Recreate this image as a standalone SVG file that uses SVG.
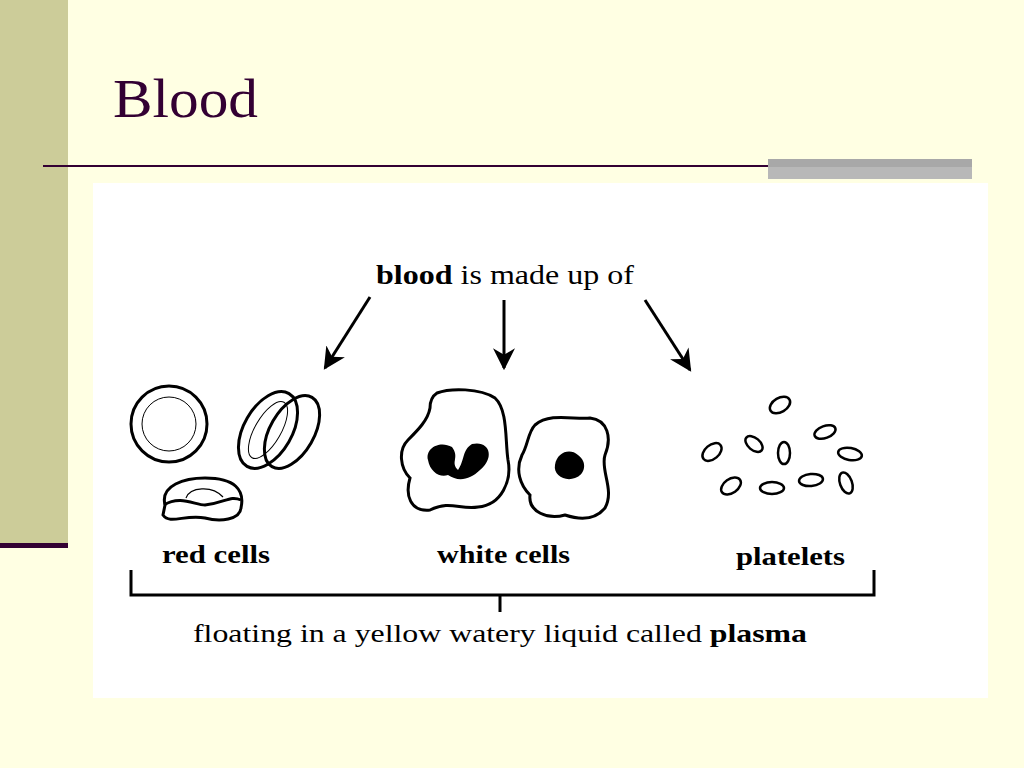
<svg xmlns="http://www.w3.org/2000/svg" width="1024" height="768" viewBox="0 0 1024 768">
<style>
.o{fill:none;stroke:#000;stroke-width:3}
.t{font-family:"Liberation Serif",serif;fill:#000}
.b{font-weight:bold}
.p{fill:#fff;stroke:#000;stroke-width:2.5}
</style>
<defs>
<marker id="a" viewBox="0 0 10 10" refX="9" refY="5" markerWidth="22" markerHeight="22" markerUnits="userSpaceOnUse" orient="auto"><path d="M0,0L10,5L0,10L3,5z" fill="#000"/></marker></defs>
<rect width="1024" height="768" fill="#FFFFE3"/>
<rect x="0" y="0" width="68" height="545" fill="#CCCC99"/>
<rect x="0" y="543" width="68" height="5" fill="#330033"/>
<text x="113" y="117" font-family="Liberation Serif,serif" font-size="54" fill="#330033" textLength="145" lengthAdjust="spacingAndGlyphs">Blood</text>
<rect x="43" y="165" width="725" height="2" fill="#330033"/>
<rect x="768" y="159" width="204" height="8" fill="#A8A8A8"/>
<rect x="768" y="167" width="204" height="12" fill="#B8B8B8"/>
<rect x="93" y="183" width="895" height="515" fill="#fff"/>
<g id="title"><text class="t" x="376" y="284" font-size="28" textLength="258" lengthAdjust="spacingAndGlyphs"><tspan class="b">blood</tspan> is made up of</text></g>
<g id="connectors" class="o">
<line x1="370" y1="297" x2="325" y2="368" marker-end="url(#a)"/>
<line x1="504" y1="300" x2="504" y2="368" marker-end="url(#a)"/>
<line x1="645" y1="300" x2="690" y2="370" marker-end="url(#a)"/>
<path d="M131,570V595H874V570M500,595V612"/>
</g>
<g id="red">
<circle class="o" cx="169" cy="424" r="38"/><circle cx="169" cy="424" r="27" fill="none" stroke="#000" stroke-width="1"/>
<ellipse class="o" cx="292" cy="432" rx="22" ry="40" transform="rotate(30 292 432)" fill="#fff"/>
<ellipse class="o" cx="268" cy="430" rx="24" ry="42" transform="rotate(30 268 430)" fill="#fff"/>
<ellipse cx="268" cy="430" rx="13" ry="32" transform="rotate(30 268 430)" fill="none" stroke="#000" stroke-width="1"/>
<path class="o" d="M165,505C160,485 185,478 205,478C235,478 245,490 241,508C240,520 220,522 205,518C185,514 170,525 163,515Z" fill="#fff"/>
<path class="o" d="M164,505C180,495 195,505 205,505C225,503 230,495 241,500"/>
<path d="M186,498C190,487 212,485 223,497" fill="none" stroke="#000" stroke-width="1.2"/>
<text class="t b" x="162" y="563" font-size="25" textLength="108" lengthAdjust="spacingAndGlyphs">red cells</text></g>
<g id="white">
<path class="o" fill="#fff" d="M437,393C450,388 480,388 495,398C508,410 505,440 508,460C512,480 502,505 478,507C460,510 450,500 430,510C410,512 405,495 410,478C400,468 398,450 408,440C418,430 428,420 430,408C430,400 434,395 437,393Z"/>
<path fill="#000" d="M428,460C425,448 440,440 452,447C460,458 450,462 458,470C465,460 462,450 472,444C490,440 495,458 480,470C470,480 458,482 448,475C440,478 430,472 428,460Z"/>
<path class="o" fill="#fff" d="M535,425C550,412 575,420 590,418C608,420 612,438 605,455C600,470 615,490 605,508C595,520 580,520 565,515C548,520 528,512 530,495C520,485 515,470 522,455C528,445 528,432 535,425Z"/>
<path fill="#000" d="M555,465C557,452 570,448 578,455C588,462 585,475 575,478C565,482 553,475 555,465Z"/>
<text class="t b" x="437" y="563" font-size="25" textLength="133" lengthAdjust="spacingAndGlyphs">white cells</text></g>
<g id="platelets">
<ellipse class="p" cx="780" cy="405" rx="11" ry="7" transform="rotate(-30 780 405)"/>
<ellipse class="p" cx="825" cy="432" rx="11" ry="6" transform="rotate(-20 825 432)"/>
<ellipse class="p" cx="712" cy="452" rx="7" ry="11" transform="rotate(50 712 452)"/>
<ellipse class="p" cx="754" cy="444" rx="10" ry="6" transform="rotate(40 754 444)"/>
<ellipse class="p" cx="784" cy="453" rx="6" ry="11"/>
<ellipse class="p" cx="850" cy="454" rx="12" ry="6" transform="rotate(10 850 454)"/>
<ellipse class="p" cx="731" cy="486" rx="11" ry="7" transform="rotate(-35 731 486)"/>
<ellipse class="p" cx="772" cy="488" rx="12" ry="6"/>
<ellipse class="p" cx="811" cy="480" rx="12" ry="6" transform="rotate(-5 811 480)"/>
<ellipse class="p" cx="846" cy="483" rx="6" ry="11" transform="rotate(-20 846 483)"/>
<text class="t b" x="736" y="565" font-size="25" textLength="109" lengthAdjust="spacingAndGlyphs">platelets</text></g>
<g id="plasma"><text class="t" x="193" y="642" font-size="26" textLength="614" lengthAdjust="spacingAndGlyphs">floating in a yellow watery liquid called <tspan class="b">plasma</tspan></text></g>
</svg>
